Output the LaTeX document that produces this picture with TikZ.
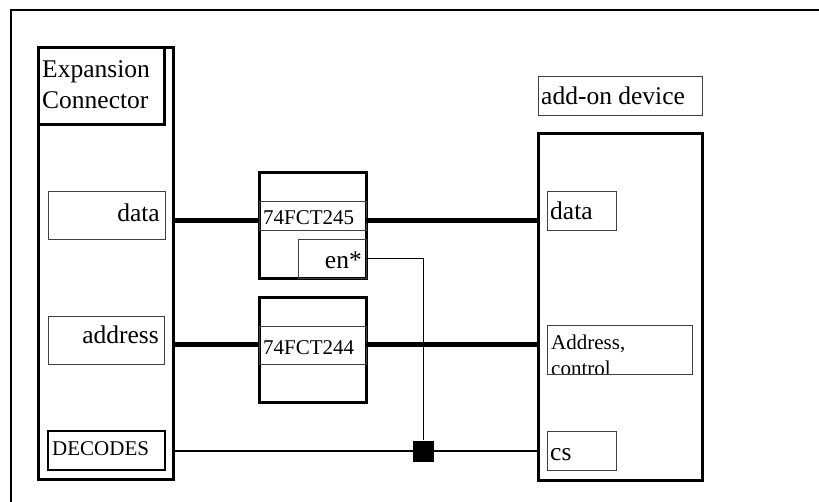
\documentclass[tikz,border=0pt]{standalone}
\usepackage{fontspec}
\setmainfont{Liberation Serif}
\begin{document}
\begin{tikzpicture}[x=1pt,y=-1pt,
  box/.style={draw, inner sep=0pt, outer sep=0pt, anchor=north west},
  thick box/.style={box, line width=3pt},
  thin box/.style={box, draw=black!75, line width=1pt},
  big/.style={font=\fontsize{25.5}{29}\selectfont, inner sep=0pt},
  small/.style={font=\fontsize{21}{24}\selectfont, inner sep=0pt},
  bus/.style={line width=5pt},
  sig/.style={line width=2pt},
  en/.style={line width=1pt}]
\useasboundingbox (0,0) rectangle (819,501);
% outer frame
\draw[line width=2.5pt] (11,510) -- (11,10) -- (830,10);
% expansion connector
\node[thick box, minimum width=135pt, minimum height=432pt] (ec) at (38,47) {};
\node[thick box, minimum width=126pt, minimum height=77pt] (ecl) at (38,47) {};
\node[big, anchor=base west] (ect1) at (42,77) {Expansion};
\node[big, anchor=base west] (ect2) at (42,108) {Connector};
\node[thin box, minimum width=117pt, minimum height=48pt] (ld) at (48,191) {};
\node[big, anchor=base east] (ldt) at (160,221) {data};
\node[thin box, minimum width=116pt, minimum height=48pt] (la) at (48,316) {};
\node[big, anchor=base east] (lat) at (159,343) {address};
\node[box, line width=2.5pt, minimum width=117pt, minimum height=39pt] (dec) at (48,431) {};
\node[small, anchor=base west] (dect) at (52,455) {DECODES};
% chips
\node[thick box, minimum width=107pt, minimum height=106pt] (c245) at (259,172) {};
\node[thin box, minimum width=107pt, minimum height=29pt] (s245) at (259,201) {};
\node[small, anchor=base west] (t245) at (263,224) {74FCT245};
\node[thin box, minimum width=68pt, minimum height=39pt] (enb) at (298,239) {};
\node[big, anchor=base east] (ent) at (362,268) {en*};
\node[thick box, minimum width=107pt, minimum height=105pt] (c244) at (259,297) {};
\node[thin box, minimum width=107pt, minimum height=38pt] (s244) at (259,326) {};
\node[small, anchor=base west] (t244) at (263,354) {74FCT244};
% add-on device
\node[thin box, minimum width=164pt, minimum height=39pt] (adl) at (538,76) {};
\node[big, anchor=base west] (adt) at (541,104) {add-on device};
\node[thick box, minimum width=164pt, minimum height=347pt] (ad) at (538,133) {};
\node[thin box, minimum width=69pt, minimum height=39pt] (rd) at (547,191) {};
\node[big, anchor=base west] (rdt) at (550,219) {data};
\node[thin box, minimum width=145pt, minimum height=49pt] (ra) at (547,325) {};
\begin{scope}
\clip (547,325) rectangle (692,373);
\node[small, anchor=base west, align=left] (rat) at (551,349) {Address,};
\node[small, anchor=base west] (rat2) at (551,375) {control};
\end{scope}
\node[thin box, minimum width=69pt, minimum height=39pt] (rcs) at (547,431) {};
\node[big, anchor=base west] (rcst) at (550,460) {cs};
% junction
\node[fill=black, minimum size=21pt, inner sep=0pt] (j) at (423,451) {};
% connectors
\coordinate (yd) at (0,220);
\coordinate (ya) at (0,344);
\coordinate (ys) at (0,451);
\coordinate (ye) at (0,258);
\draw[bus] (ec.east |- yd) -- (c245.west |- yd);
\draw[bus] (c245.east |- yd) -- (ad.west |- yd);
\draw[bus] (ec.east |- ya) -- (c244.west |- ya);
\draw[bus] (c244.east |- ya) -- (ad.west |- ya);
\draw[sig] (ec.east |- ys) -- (ad.west |- ys);
\draw[en] (enb.east |- ye) -| (j.north);
\end{tikzpicture}
\end{document}
